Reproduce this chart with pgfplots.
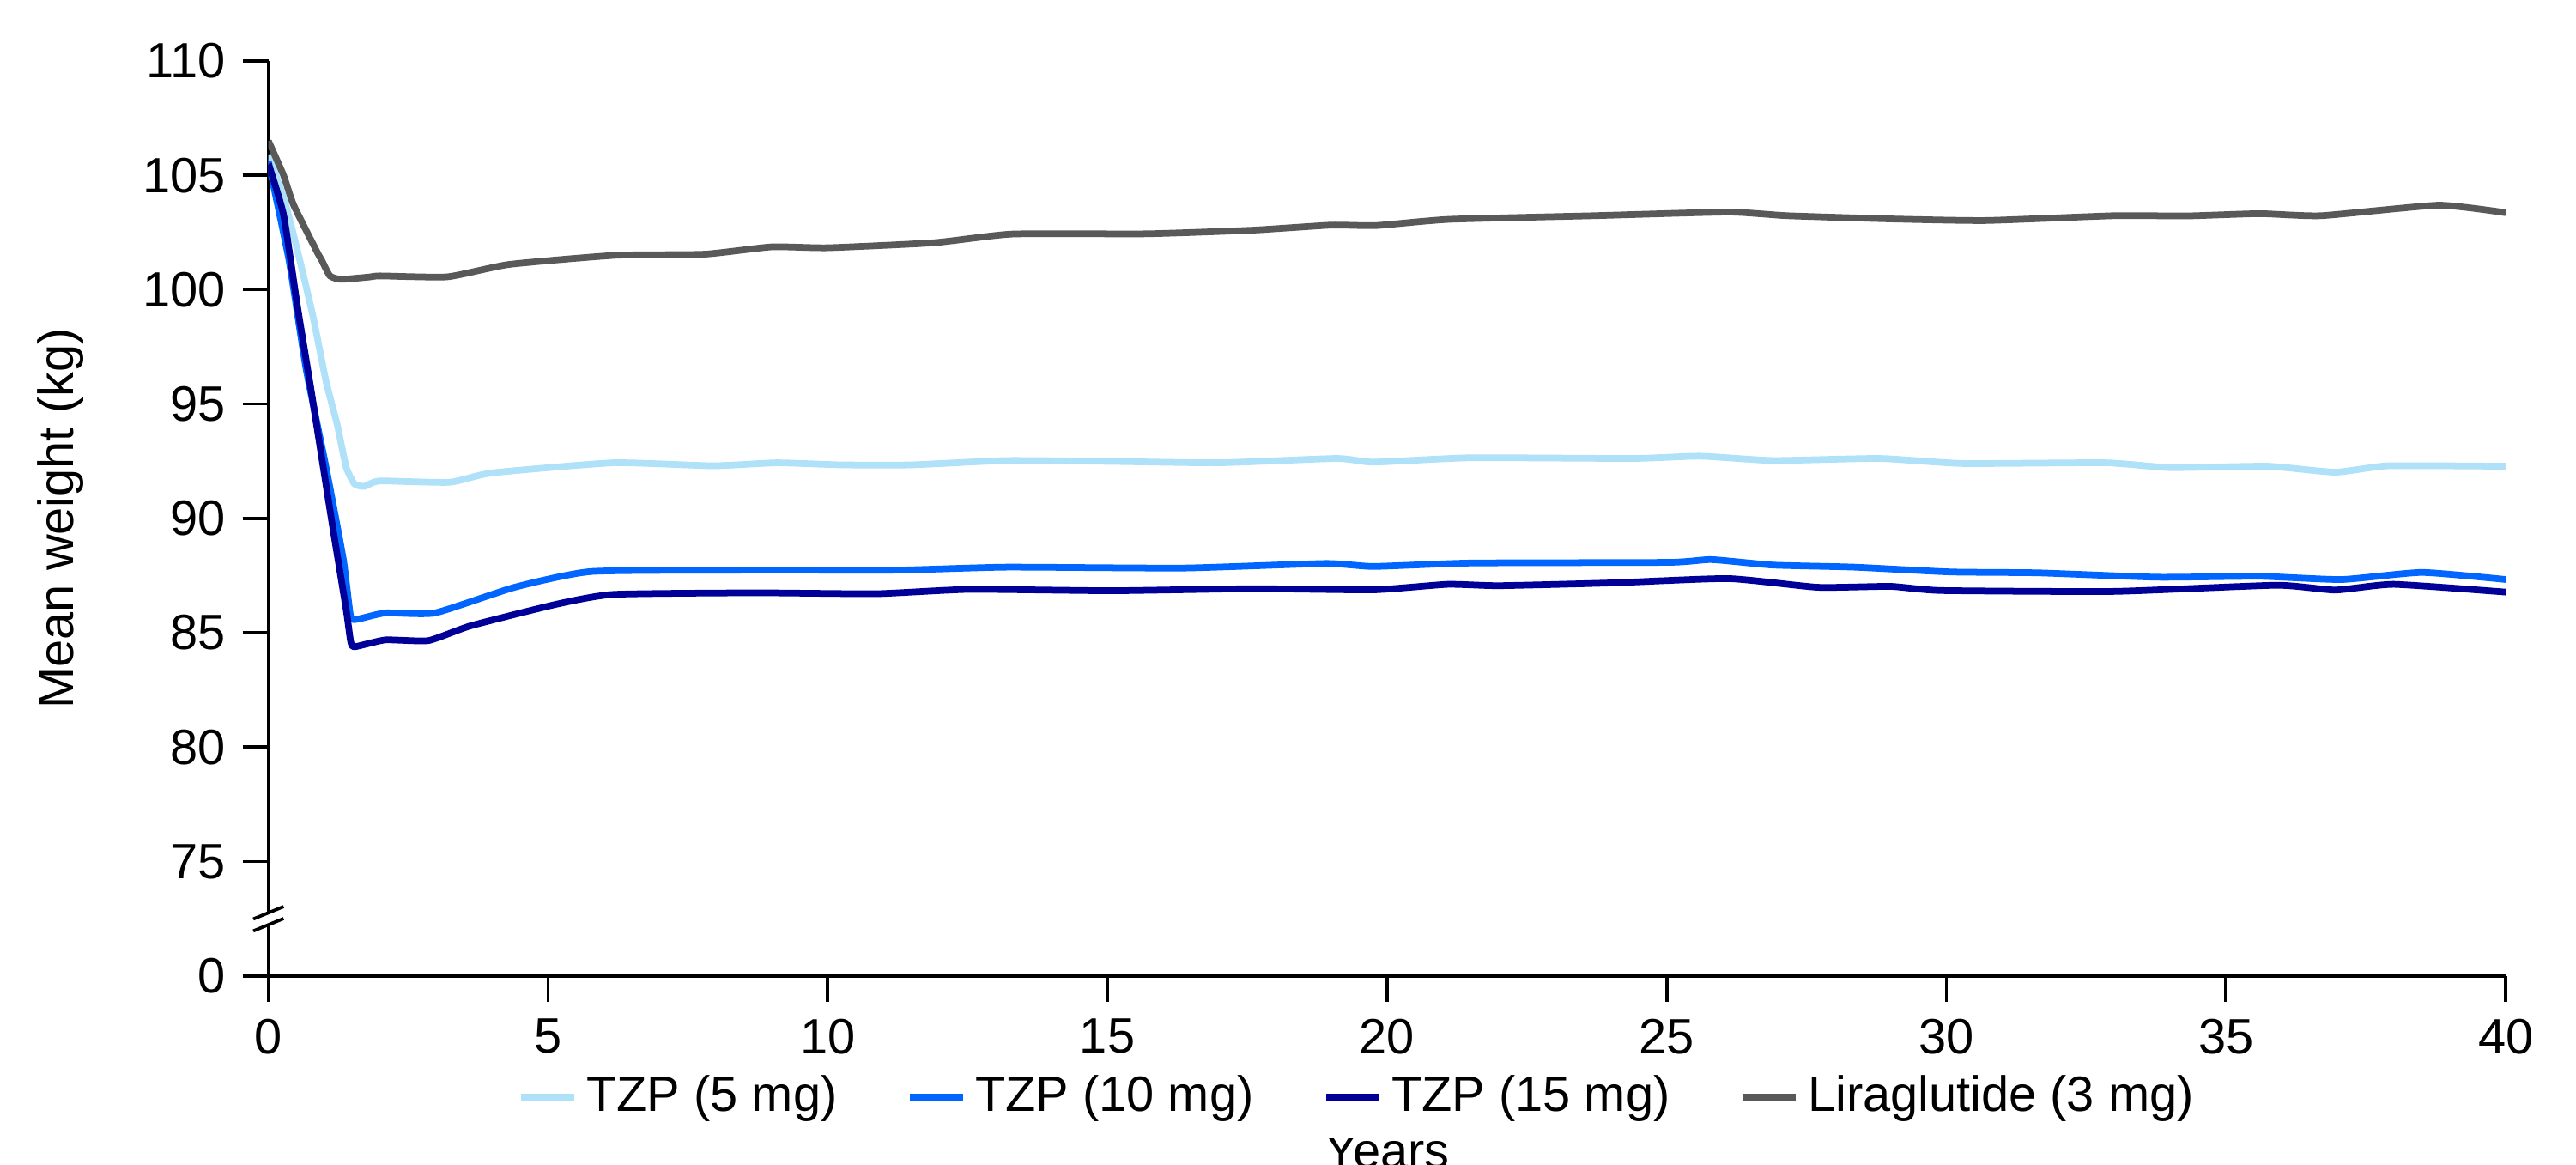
\documentclass[border=0pt]{standalone}
\usepackage{fontspec}
\setmainfont{Liberation Sans}
\usepackage{pgfplots}
\pgfplotsset{compat=1.18}
\definecolor{tzpfive}{RGB}{175,225,248}
\definecolor{tzpten}{RGB}{0,102,255}
\definecolor{tzpfifteen}{RGB}{0,0,153}
\definecolor{lira}{RGB}{89,89,89}
\begin{document}
\fontsize{10.8pt}{13pt}\selectfont
\begin{tikzpicture}
\begin{axis}[
  at={(0,0)}, anchor=south west,
  scale only axis, width=487.2pt, height=199.25pt,
  xmin=0, xmax=40, ymin=70, ymax=110,
  axis lines*=left,
  axis line style={line width=0.7pt, black},
  every tick/.style={black, line width=0.7pt},
  tick align=outside, major tick length=5.6pt,
  xtick={0,5,...,40},
  ytick={70,75,...,110},
  yticklabels={0,75,80,85,90,95,100,105,110},
  /pgf/number format/assume math mode=true,
  ylabel={Mean weight (kg)},
  ylabel style={at={(axis description cs:-0.0928,0.5)}, anchor=center},
  xlabel={Years},
  xlabel style={at={(axis description cs:0.5,-0.1717)}, anchor=north, inner sep=0pt},
  legend columns=4,
  legend style={draw=none, at={(0.488,-0.1325)}, anchor=center,
    /tikz/every even column/.append style={column sep=13pt}},
  legend image code/.code={\draw[#1] (0pt,0pt) -- (11.6pt,0pt);},
  every axis plot/.append style={line width=1.45pt, line join=round, no markers, smooth, tension=0.3},
]
\addplot[color=tzpfive] coordinates {
(0,105.9) (0.3,103.8) (0.55,101.4) (0.8,98.8) (1.03,96.0) (1.23,94.1) (1.39,92.24) (1.54,91.5) (1.71,91.40) (1.85,91.55) (2.03,91.64) (3.24,91.58) (4.0,91.99) (6.17,92.43) (7.95,92.30) (9.09,92.43) (10.24,92.34) (11.5,92.34) (13.2,92.53) (15.1,92.49) (17.0,92.43) (19.1,92.62) (19.76,92.46) (21.5,92.65) (24.4,92.62) (25.6,92.72) (26.9,92.53) (28.8,92.62) (30.3,92.40) (32.85,92.43) (34.0,92.22) (35.75,92.28) (36.95,92.02) (37.9,92.30) (40,92.28)
};
\addlegendentry{TZP (5 mg)}
\addplot[color=tzpten] coordinates {
(0,105.6) (0.37,101.26) (0.67,96.59) (1.03,92.24) (1.34,88.2) (1.47,85.72) (1.6,85.6) (2.09,85.87) (2.98,85.87) (4.4,86.99) (5.78,87.68) (8.71,87.74) (11.25,87.74) (13.2,87.87) (16.35,87.83) (18.9,88.03) (19.76,87.9) (21.5,88.05) (25.05,88.08) (25.8,88.2) (26.9,87.96) (28.35,87.87) (30.07,87.66) (31.65,87.62) (33.77,87.43) (35.6,87.47) (37.07,87.33) (38.5,87.64) (40,87.33)
};
\addlegendentry{TZP (10 mg)}
\addplot[color=tzpfifteen] coordinates {
(0,105.5) (0.27,103.28) (0.52,99.25) (0.78,95.35) (1.13,89.92) (1.39,86.02) (1.47,84.63) (1.54,84.39) (2.09,84.69) (2.86,84.66) (3.62,85.31) (5.15,86.25) (6.17,86.68) (8.71,86.75) (10.87,86.71) (12.53,86.9) (15.08,86.84) (17.6,86.93) (19.76,86.88) (21.08,87.12) (22.0,87.06) (24.0,87.18) (26.1,87.37) (27.7,86.99) (29.0,87.03) (29.9,86.85) (33.0,86.81) (35.9,87.08) (36.95,86.87) (38.0,87.12) (40,86.78)
};
\addlegendentry{TZP (15 mg)}
\addplot[color=lira] coordinates {
(0,106.5) (0.27,105.0) (0.45,103.7) (0.88,101.6) (0.95,101.3) (1.1,100.6) (1.3,100.45) (1.8,100.55) (2.0,100.6) (3.2,100.56) (4.3,101.1) (6.2,101.5) (7.8,101.55) (9.0,101.87) (10.0,101.83) (11.9,102.05) (13.3,102.43) (15.7,102.44) (17.6,102.6) (19.0,102.82) (19.8,102.8) (21.1,103.07) (23.7,103.23) (26.1,103.39) (27.15,103.23) (29.0,103.09) (30.7,103.02) (33.0,103.23) (34.3,103.22) (35.6,103.32) (36.7,103.23) (38.8,103.69) (40,103.36)
};
\addlegendentry{Liraglutide (3 mg)}
\coordinate (brk) at (axis cs:0,72.5);
\end{axis}
\fill[white] ([shift={(-0.6pt,-1.3pt)}]brk) rectangle ([shift={(0.6pt,1.3pt)}]brk);
\draw[line width=0.7pt] ([shift={(-3.3pt,-2.65pt)}]brk) -- ([shift={(3.3pt,0.05pt)}]brk);
\draw[line width=0.7pt] ([shift={(-3.3pt,-0.05pt)}]brk) -- ([shift={(3.3pt,2.65pt)}]brk);
\pgfresetboundingbox
\useasboundingbox (-58.45pt,-41.1pt) rectangle (502.5pt,212.5pt);
\end{tikzpicture}
\end{document}
